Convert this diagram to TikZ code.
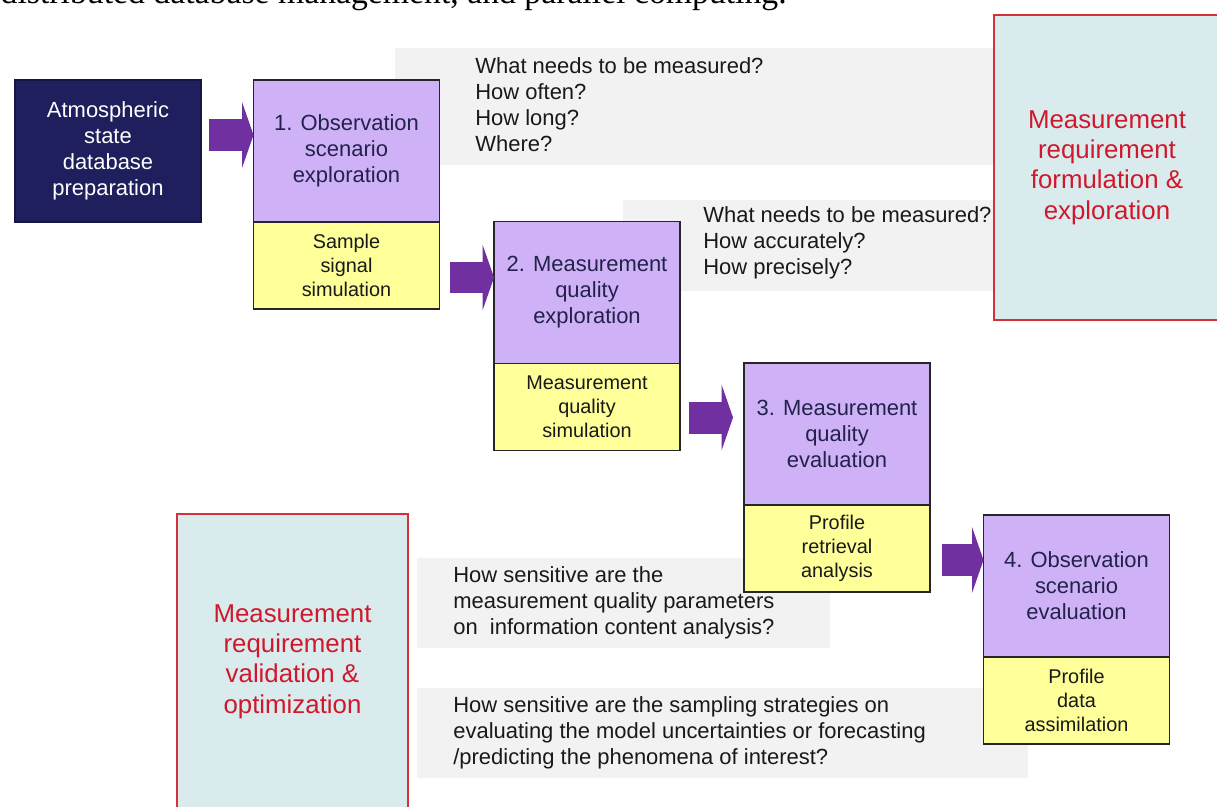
\documentclass[tikz,border=0pt]{standalone}
\usepackage{fontspec}
\setmainfont{Liberation Sans}
\newfontfamily\paperfont{Liberation Serif}
\usetikzlibrary{positioning,arrows.meta}
\definecolor{navy}{HTML}{1F1F5E}
\definecolor{lilac}{HTML}{CFB1F7}
\definecolor{lemon}{HTML}{FFFF99}
\definecolor{plum}{HTML}{7030A0}
\definecolor{bandgray}{HTML}{F2F2F2}
\definecolor{paleblue}{HTML}{DAEBEE}
\definecolor{redline}{HTML}{D3323C}
\definecolor{redtext}{HTML}{D0182C}
\definecolor{inkblue}{HTML}{22224A}
\begin{document}
\begin{tikzpicture}[x=0.02cm,y=-0.02cm,
  stage/.style={draw=black!85,line width=0.8pt,fill=lilac,text=inkblue,minimum width=3.72cm,minimum height=2.84cm,inner sep=0pt,outer sep=0pt,align=center,font=\fontsize{12.5pt}{14.8pt}\selectfont},
  sim/.style={draw=black!85,line width=0.8pt,fill=lemon,text=black!90,minimum width=3.72cm,minimum height=1.74cm,inner sep=0pt,outer sep=0pt,align=center,font=\fontsize{11.3pt}{13.6pt}\selectfont},
  goal/.style={draw=redline,line width=0.8pt,fill=paleblue,text=redtext,inner sep=0pt,align=center,font=\fontsize{14.7pt}{17.3pt}\selectfont},
  band/.style={fill=bandgray,inner sep=0pt},
  ask/.style={anchor=west,inner sep=0pt,align=left,text=black!90,font=\fontsize{12.5pt}{14.8pt}\selectfont},
  blockarrow/.style={draw=plum,line width=0.64cm,-{Triangle[length=0.23cm,width=1.32cm,line width=0pt]}}]
\useasboundingbox (0,0) rectangle (1217,807);
\clip (0,0) rectangle (1217,807);

% cut line of the page above
\node[anchor=base east,inner sep=0pt,font=\paperfont\fontsize{19.2pt}{22pt}\selectfont] (paper) at (787,4) {distributed database management, and parallel computing.};

% grey question bands
\node[band,minimum width=11.98cm,minimum height=2.34cm] (band1) at (694.5,106.5) {};
\node[band,minimum width=7.42cm,minimum height=1.82cm] (band2) at (808.5,245.5) {};
\node[band,minimum width=8.26cm,minimum height=1.8cm] (band3) at (623.5,603) {};
\node[band,minimum width=12.22cm,minimum height=1.8cm] (band4) at (722.5,733) {};
\node[ask] (ask1) at (475,105) {What needs to be measured?\\How often?\\How long?\\Where?};
\node[ask] (ask2) at (703,243) {What needs to be measured?\\How accurately?\\How precisely?};
\node[ask] (ask3) at (453,603) {How sensitive are the\\measurement quality parameters\\on~~information content analysis?};
\node[ask] (ask4) at (453,733) {How sensitive are the sampling strategies on\\evaluating the model uncertainties or forecasting\\/predicting the phenomena of interest?};

\node[goal,minimum width=4.52cm,minimum height=6.1cm] (formul) at (1107,167.5) {Measurement\\requirement\\formulation \&\\exploration};
\node[goal,minimum width=4.62cm,minimum height=5.9cm] (valid) at (292.5,661.5) {Measurement\\requirement\\validation \&\\optimization};

% the four steps
\node[stage,fill=navy,draw=navy!70!black,text=white] (atm) at (108,151) {Atmospheric\\state\\database\\preparation};
\node[stage] (obs1) at (346.5,151) {1. Observation\\scenario\\exploration};
\node[sim,below=0pt of obs1] (samp1) {Sample\\signal\\simulation};
\node[stage] (qual2) at (587,292.5) {2. Measurement\\quality\\exploration};
\node[sim,below=0pt of qual2] (sim2) {Measurement\\quality\\simulation};
\node[stage] (eval3) at (837,434) {3. Measurement\\quality\\evaluation};
\node[sim,below=0pt of eval3] (retr3) {Profile\\retrieval\\analysis};
\node[stage] (obs4) at (1076.5,586) {4. Observation\\scenario\\evaluation};
\node[sim,below=0pt of obs4] (assim4) {Profile\\data\\assimilation};

\coordinate (tip1) at ([yshift=0.32cm]obs1.west);
\coordinate (tip2) at ([yshift=0.3cm]qual2.west);
\coordinate (tip3) at ([yshift=0.33cm]eval3.west);
\coordinate (tip4) at ([yshift=0.52cm]obs4.west);
\draw[blockarrow,shorten <=0.16cm] (atm.east |- tip1) -- (tip1);
\draw[blockarrow,shorten <=0.22cm] (samp1.east |- tip2) -- (tip2);
\draw[blockarrow,shorten <=0.18cm,shorten >=0.22cm] (sim2.east |- tip3) -- (tip3);
\draw[blockarrow,shorten <=0.24cm] (retr3.east |- tip4) -- (tip4);
\end{tikzpicture}
\end{document}
